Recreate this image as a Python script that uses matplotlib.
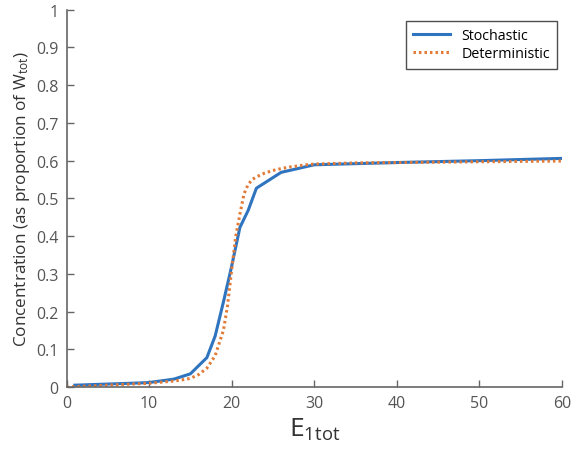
import matplotlib
matplotlib.use("Agg")
import matplotlib.pyplot as plt

plt.rcParams['font.family'] = ['Open Sans', 'DejaVu Sans']
plt.rcParams['mathtext.default'] = 'regular'

# Stochastic simulation
stoch_x = [1, 5, 9, 10, 13, 15, 17, 18, 19, 20, 21, 22, 23, 26, 28, 30, 40, 50, 60]
stoch_y = [0.005, 0.008, 0.011, 0.012, 0.021, 0.035, 0.078, 0.135, 0.225, 0.32,
           0.423, 0.468, 0.527, 0.569, 0.579, 0.589, 0.595, 0.600, 0.606]

# Deterministic model
det_x = [0, 1, 2, 3, 4, 5, 6, 7, 8, 9, 10, 11, 12, 13, 14, 15, 16, 17, 18, 19,
         19.5, 20, 20.5, 21, 21.5, 22, 22.5, 23, 24, 25, 26, 27, 28, 29, 30,
         35, 40, 45, 50, 55, 60]
det_y = [0.0, 0.001, 0.002, 0.003, 0.004, 0.005, 0.006, 0.007, 0.008, 0.009,
         0.010, 0.012, 0.014, 0.016, 0.019, 0.023, 0.033, 0.050, 0.083, 0.150,
         0.215, 0.310, 0.400, 0.458, 0.512, 0.537, 0.550, 0.557, 0.567, 0.574,
         0.579, 0.583, 0.586, 0.589, 0.591, 0.594, 0.595, 0.596, 0.597, 0.598, 0.599]

xticks = [0, 10, 20, 30, 40, 50, 60]
yticks = [0, 0.1, 0.2, 0.3, 0.4, 0.5, 0.6, 0.7, 0.8, 0.9, 1]
ytick_labels = ['0', '0.1', '0.2', '0.3', '0.4', '0.5', '0.6', '0.7', '0.8', '0.9', '1']

fig = plt.figure(figsize=(5.71, 4.56), dpi=100)
ax = fig.add_axes([0.1165, 0.149, 0.8675, 0.8275])

ax.plot(stoch_x, stoch_y, color='#2F74BF', lw=2.2, label='Stochastic')
ax.plot(det_x, det_y, color='#E27A36', lw=2.2, linestyle=(0, (0.8, 1.0)),
        label='Deterministic')

ax.set_xlim(0, 60)
ax.set_ylim(0, 1)
ax.set_xticks(xticks)
ax.set_yticks(yticks)
ax.set_yticklabels(ytick_labels)

for s in ['top', 'right']:
    ax.spines[s].set_visible(False)
for s in ['left', 'bottom']:
    ax.spines[s].set_color('#666666')
    ax.spines[s].set_linewidth(1.2)
ax.tick_params(direction='in', length=5, width=1, colors='#666666',
               labelcolor='#555555', labelsize=11.5, pad=6)

ax.set_ylabel('Concentration (as proportion of W$_{tot}$)', fontsize=12.3,
              color='#333333', labelpad=3)
ax.set_xlabel('$E_{1tot}$', fontsize=19, color='#333333', labelpad=3)

leg = ax.legend(loc='upper right', fontsize=10.3, frameon=True, fancybox=False,
                handlelength=2.6, borderpad=0.5, labelspacing=0.25,
                bbox_to_anchor=(1.005, 0.99))
leg.get_frame().set_edgecolor('#222222')
leg.get_frame().set_linewidth(1.0)

fig.savefig('out.png', dpi=100)
